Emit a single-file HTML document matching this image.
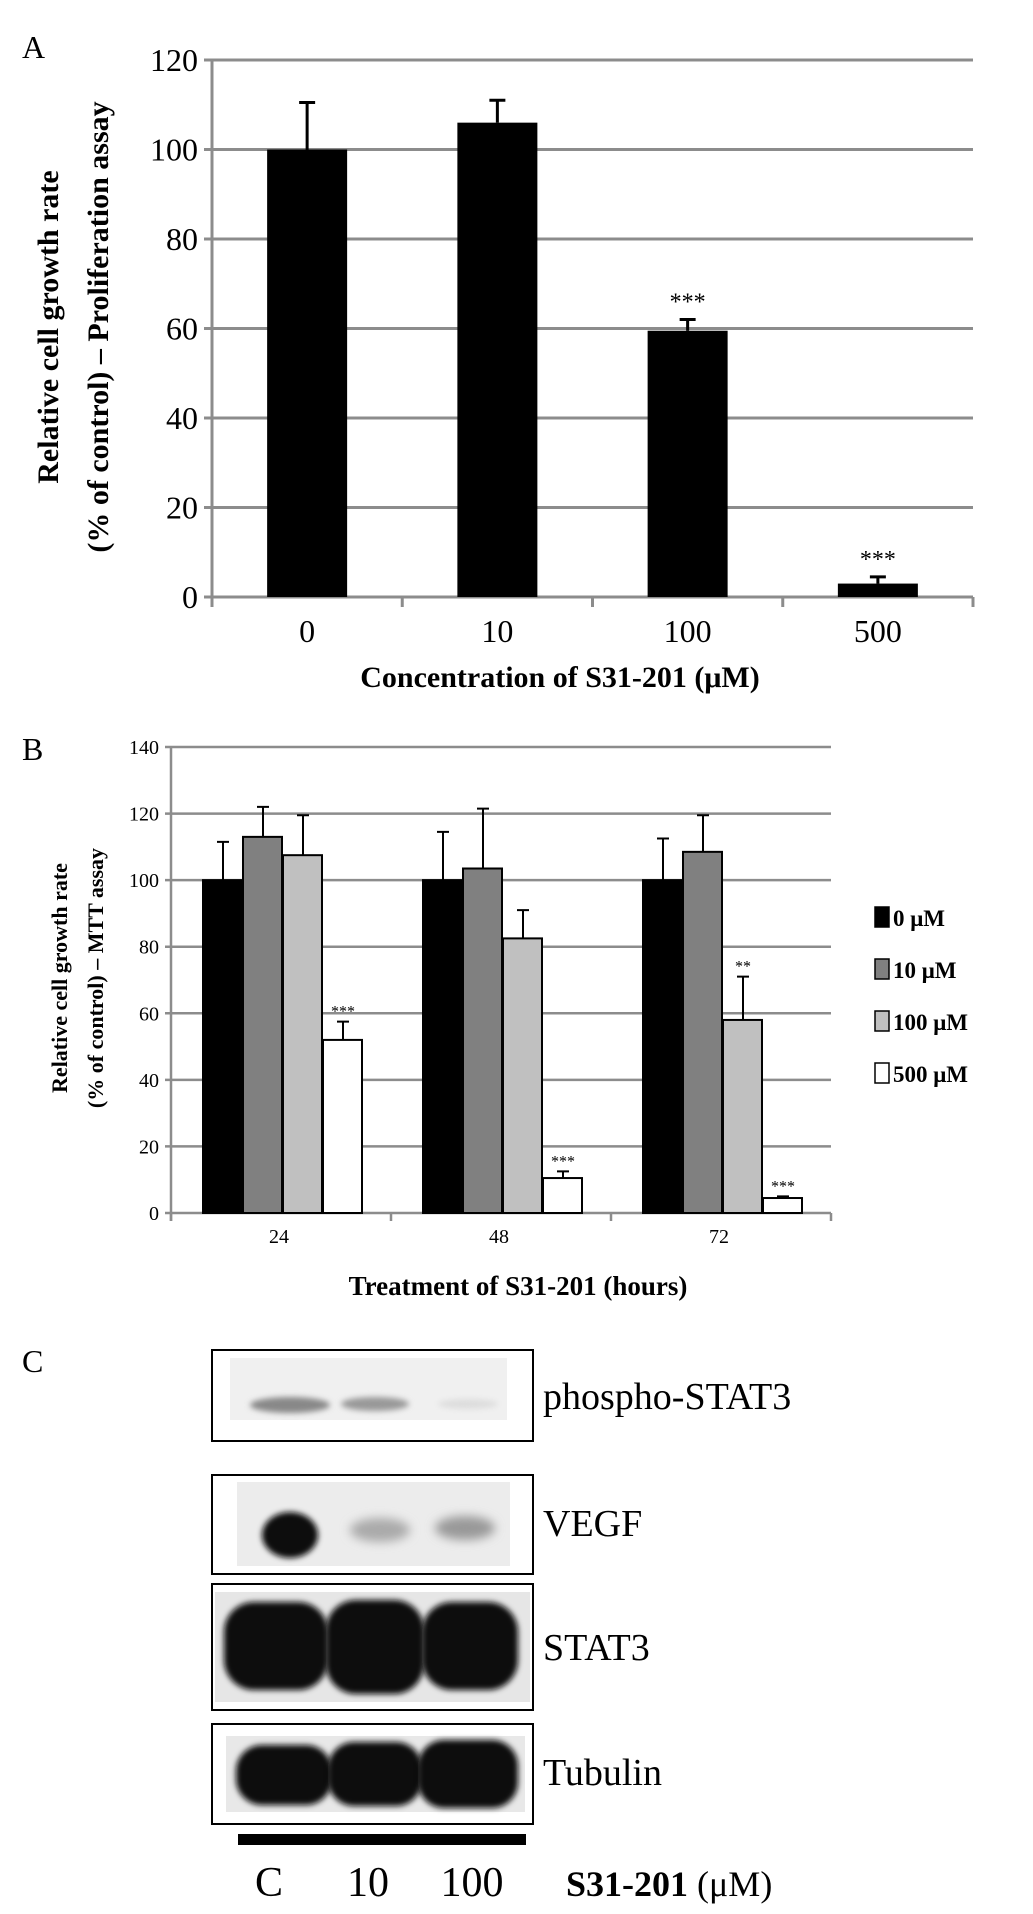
<!DOCTYPE html>
<html><head><meta charset="utf-8"><style>
html,body{margin:0;padding:0;background:#fff;}
svg{display:block;font-family:"Liberation Serif",serif;}
</style></head><body>
<svg id="fig" width="1033" height="1914" viewBox="0 0 1033 1914">
<defs>
<filter id="bl" x="-30%" y="-50%" width="160%" height="200%"><feGaussianBlur stdDeviation="5"/></filter>
<filter id="bl2" x="-30%" y="-50%" width="160%" height="200%"><feGaussianBlur stdDeviation="3"/></filter>
</defs>
<text x="22" y="58" font-size="32">A</text>
<g id="chartA"></g>
<text x="22" y="760" font-size="32">B</text>
<g id="chartB"></g>
<text x="22" y="1372" font-size="32">C</text>
<g id="blots">
 <rect x="212" y="1350" width="321" height="91" fill="#fff" stroke="#000" stroke-width="2"/>
 <rect x="230" y="1358" width="277" height="62" fill="#f0f0f0"/>
 <ellipse cx="290" cy="1405" rx="40" ry="8" fill="#888" filter="url(#bl2)"/>
 <ellipse cx="375" cy="1404" rx="34" ry="7" fill="#999" filter="url(#bl2)"/>
 <ellipse cx="468" cy="1404" rx="30" ry="5" fill="#ddd" filter="url(#bl2)"/>
 <rect x="212" y="1475" width="321" height="99" fill="#fff" stroke="#000" stroke-width="2"/>
 <rect x="237" y="1482" width="273" height="84" fill="#ececec"/>
 <ellipse cx="290" cy="1535" rx="28" ry="23" fill="#111" filter="url(#bl2)"/>
 <ellipse cx="380" cy="1530" rx="30" ry="12" fill="#aaa" filter="url(#bl)"/>
 <ellipse cx="465" cy="1528" rx="30" ry="12" fill="#999" filter="url(#bl)"/>
 <rect x="212" y="1584" width="321" height="126" fill="#fff" stroke="#000" stroke-width="2"/>
 <rect x="215" y="1592" width="315" height="110" fill="#e6e6e6"/>
 <rect x="224" y="1602" width="104" height="88" rx="30" fill="#0a0a0a" filter="url(#bl2)"/>
 <rect x="326" y="1600" width="98" height="94" rx="30" fill="#0a0a0a" filter="url(#bl2)"/>
 <rect x="422" y="1602" width="96" height="88" rx="30" fill="#0a0a0a" filter="url(#bl2)"/>
 <rect x="212" y="1724" width="321" height="100" fill="#fff" stroke="#000" stroke-width="2"/>
 <rect x="226" y="1736" width="299" height="76" fill="#e8e8e8"/>
 <rect x="236" y="1745" width="96" height="60" rx="26" fill="#111" filter="url(#bl2)"/>
 <rect x="328" y="1742" width="94" height="64" rx="26" fill="#111" filter="url(#bl2)"/>
 <rect x="418" y="1740" width="100" height="68" rx="26" fill="#111" filter="url(#bl2)"/>
 <text x="543" y="1409" font-size="38">phospho-STAT3</text>
 <text x="543" y="1536" font-size="38">VEGF</text>
 <text x="543" y="1660" font-size="38">STAT3</text>
 <text x="543" y="1785" font-size="38">Tubulin</text>
 <rect x="238" y="1834" width="288" height="11" fill="#000"/>
 <text x="269" y="1896" font-size="42" text-anchor="middle">C</text>
 <text x="368" y="1896" font-size="42" text-anchor="middle">10</text>
 <text x="472" y="1896" font-size="42" text-anchor="middle">100</text>
 <text x="566" y="1896" font-size="36"><tspan font-weight="bold">S31-201</tspan> (μM)</text>
</g>
</svg>
<script>
const NS="http://www.w3.org/2000/svg";
function mk(p,t,a){const e=document.createElementNS(NS,t);for(const k in a)e.setAttribute(k,a[k]);p.appendChild(e);return e;}

// ---- Chart A data ----
const aCategories=["0","10","100","500"];
const aValues=[100,106,59.5,3];
const aErrors=[10.5,5,2.5,1.5];
const aStars=["","","***","***"];
const aTicks=[0,20,40,60,80,100,120];

// ---- Chart B data ----
const bCategories=["24","48","72"];
const bSeriesNames=["0 μM","10 μM","100 μM","500 μM"];
const bS0=[100,100,100];
const bS1=[113,103.5,108.5];
const bS2=[107.5,82.5,58];
const bS3=[52,10.5,4.5];
const bE0=[11.5,14.5,12.5];
const bE1=[9,18,11];
const bE2=[12,8.5,13];
const bE3=[5.5,2,0.5];
const bStars2=["","","**"];
const bStars3=["***","***","***"];
const bTicks=[0,20,40,60,80,100,120,140];

// Chart A
(function(){
 const g=document.getElementById('chartA');
 const x0=212,x1=973,y0=597,yTop=60,max=120;
 const y=v=>y0-(v/max)*(y0-yTop);
 const bw=(x1-x0)/aCategories.length;
 aTicks.forEach(t=>{
  const ln=mk(g,'line',{x1:x0-8,x2:x1,y1:y(t),y2:y(t),stroke:'#8c8c8c','stroke-width':3});
  
  
  const tx=mk(g,'text',{x:x0-14,y:y(t)+11,'font-size':32,'text-anchor':'end'});
  tx.textContent=t;
  
  
 });
 const ax=mk(g,'line',{x1:x0,x2:x0,y1:yTop,y2:y0+10,stroke:'#8c8c8c','stroke-width':3});
 
 
 for(let i=0;i<=aCategories.length;i++){
  const tk=mk(g,'line',{x1:x0+i*bw,x2:x0+i*bw,y1:y0,y2:y0+10,stroke:'#8c8c8c','stroke-width':3});
  
  
 }
 aCategories.forEach((c,i)=>{
  const cx=x0+(i+0.5)*bw, w=80;
  const r=mk(g,'rect',{x:cx-w/2,y:y(aValues[i]),width:w,height:y0-y(aValues[i]),fill:'#000'});
  
  
  const top=y(aValues[i]+aErrors[i]);
  const eb=mk(g,'path',{d:`M${cx} ${y(aValues[i])}V${top}M${cx-8} ${top}H${cx+8}`,stroke:'#000','stroke-width':3,fill:'none'});
  
  
  if(aStars[i]){
   const s=mk(g,'text',{x:cx,y:top-10,'font-size':24,'text-anchor':'middle'});
   s.textContent=aStars[i];
   
   
  }
  const l=mk(g,'text',{x:cx,y:642,'font-size':32,'text-anchor':'middle'});
  l.textContent=c;
  
  
 });
 const xt=mk(g,'text',{x:560,y:687,'font-size':30,'font-weight':'bold','text-anchor':'middle'});
 xt.textContent='Concentration of S31-201 (μM)';
 
 
 const yt=mk(g,'text',{transform:'translate(58,327) rotate(-90)','font-size':30,'font-weight':'bold','text-anchor':'middle'});
 yt.textContent='Relative cell growth rate';
 
 
 const yt2=mk(g,'text',{transform:'translate(108,327) rotate(-90)','font-size':30,'font-weight':'bold','text-anchor':'middle'});
 yt2.textContent='(% of control) – Proliferation assay';
 
 
})();

// Chart B
(function(){
 const g=document.getElementById('chartB');
 const x0=171,x1=831,y0=1213,yTop=747,max=140;
 const y=v=>y0-(v/max)*(y0-yTop);
 const gw=(x1-x0)/bCategories.length;
 const series=[bS0,bS1,bS2,bS3], errs=[bE0,bE1,bE2,bE3];
 const fills=['#000','#808080','#c0c0c0','#fff'];
 bTicks.forEach(t=>{
  const ln=mk(g,'line',{x1:x0-6,x2:x1,y1:y(t),y2:y(t),stroke:'#8c8c8c','stroke-width':2.5});
  
  
  const tx=mk(g,'text',{x:x0-12,y:y(t)+7,'font-size':20,'text-anchor':'end'});
  tx.textContent=t;
  
  
 });
 const ax=mk(g,'line',{x1:x0,x2:x0,y1:yTop,y2:y0+8,stroke:'#8c8c8c','stroke-width':2.5});
 
 
 for(let i=0;i<=bCategories.length;i++){
  const tk=mk(g,'line',{x1:x0+i*gw,x2:x0+i*gw,y1:y0,y2:y0+8,stroke:'#8c8c8c','stroke-width':2.5});
  
  
 }
 const bw=40;
 bCategories.forEach((c,i)=>{
  const gs=x0+i*gw+32;
  series.forEach((s,j)=>{
   const bx=gs+j*bw, cx=bx+bw/2;
   const r=mk(g,'rect',{x:bx,y:y(s[i]),width:bw-1,height:y0-y(s[i]),fill:fills[j],stroke:'#000','stroke-width':2});
   
   
   const top=y(s[i]+errs[j][i]);
   const eb=mk(g,'path',{d:`M${cx} ${y(s[i])}V${top}M${cx-6} ${top}H${cx+6}`,stroke:'#000','stroke-width':2,fill:'none'});
   
   
   const st=j===2?bStars2[i]:(j===3?bStars3[i]:'');
   if(st){
    const t=mk(g,'text',{x:cx,y:top-5,'font-size':16,'text-anchor':'middle'});
    t.textContent=st;
    
    
   }
  });
  const l=mk(g,'text',{x:x0+(i+0.5)*gw-2,y:1243,'font-size':20,'text-anchor':'middle'});
  l.textContent=c;
  
  
 });
 const xt=mk(g,'text',{x:518,y:1295,'font-size':27,'font-weight':'bold','text-anchor':'middle'});
 xt.textContent='Treatment of S31-201 (hours)';
 
 
 const yt=mk(g,'text',{transform:'translate(67,978) rotate(-90)','font-size':22,'font-weight':'bold','text-anchor':'middle'});
 yt.textContent='Relative cell growth rate';
 
 
 const yt2=mk(g,'text',{transform:'translate(103,978) rotate(-90)','font-size':22,'font-weight':'bold','text-anchor':'middle'});
 yt2.textContent='(% of control) – MTT assay';
 
 
 bSeriesNames.forEach((n,j)=>{
  const ly=918+j*52;
  const sq=mk(g,'rect',{x:875,y:ly-11,width:14,height:20,fill:fills[j],stroke:'#000','stroke-width':1.5});
  
  
  const t=mk(g,'text',{x:893,y:ly+8,'font-size':23,'font-weight':'bold'});
  t.textContent=n;
  
  
 });
})();
</script>
</body></html>
